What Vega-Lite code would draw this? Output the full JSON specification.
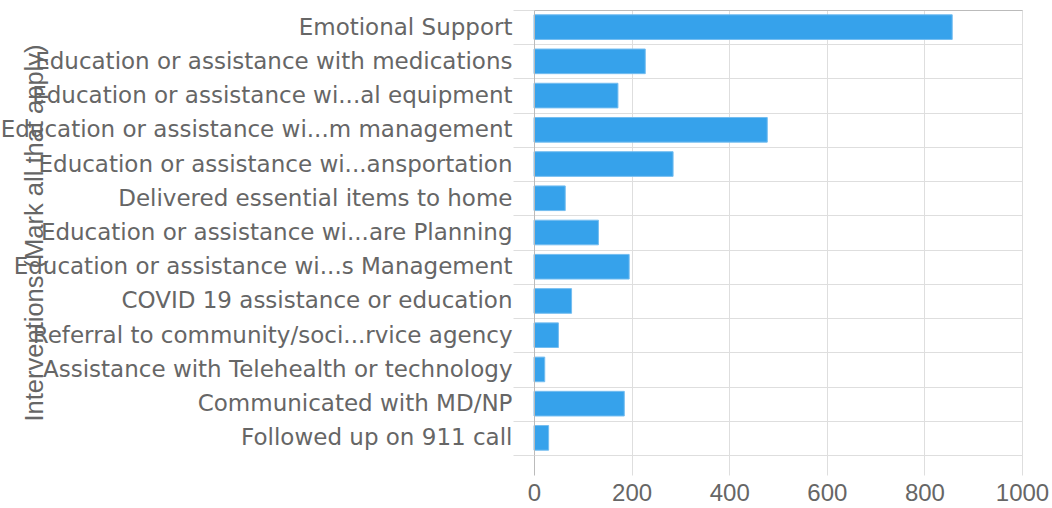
{
  "$schema": "https://vega.github.io/schema/vega-lite/v6.json",
  "width": 488,
  "height": 445,
  "autosize": {"type": "none"},
  "padding": {"left": 534, "top": 10, "right": 30, "bottom": 53},
  "background": "white",
  "config": {
    "view": {"stroke": "#dedede", "strokeWidth": 1},
    "axis": {"labelColor": "#666666", "titleColor": "#666666"}
  },
  "data": {
    "values": [
      {"intervention": "Emotional Support", "count": 857},
      {"intervention": "Education or assistance with medications", "count": 228},
      {"intervention": "Education or assistance wi...al equipment", "count": 172},
      {"intervention": "Education or assistance wi...m management", "count": 478},
      {"intervention": "Education or assistance wi...ansportation", "count": 285},
      {"intervention": "Delivered essential items to home", "count": 64},
      {"intervention": "Education or assistance wi...are Planning", "count": 132},
      {"intervention": "Education or assistance wi...s Management", "count": 195},
      {"intervention": "COVID 19 assistance or education", "count": 77},
      {"intervention": "Referral to community/soci...rvice agency", "count": 50},
      {"intervention": "Assistance with Telehealth or technology", "count": 22},
      {"intervention": "Communicated with MD/NP", "count": 185},
      {"intervention": "Followed up on 911 call", "count": 30}
    ]
  },
  "layer": [
    {
      "mark": {"type": "bar", "height": {"band": 0.72}, "color": "#36A2EB", "stroke": "#74bdf0", "strokeWidth": 1},
      "encoding": {
        "y": {
          "field": "intervention",
          "type": "nominal",
          "sort": null,
          "scale": {"paddingInner": 0, "paddingOuter": 0},
          "axis": {
            "title": "Interventions (Mark all that apply)",
            "titleFont": "Liberation Sans",
            "titleFontSize": 25.5,
            "titleFontWeight": "normal",
            "titleAngle": -90,
            "titleX": -492,
            "titleY": 222.5,
            "titleAlign": "center",
            "titleBaseline": "alphabetic",
            "labelFont": "DejaVu Sans",
            "labelFontSize": 23,
            "labelLimit": 0,
            "labelPadding": 1,
            "tickSize": 21,
            "tickColor": "#dedede",
            "tickBand": "extent",
            "grid": true,
            "gridColor": "#dedede",
            "domainColor": "#bbbbbb",
            "zindex": 1
          }
        },
        "x": {
          "field": "count",
          "type": "quantitative",
          "scale": {"domain": [0, 1000], "nice": false},
          "axis": {
            "title": null,
            "values": [0, 200, 400, 600, 800, 1000],
            "format": "d",
            "labelFont": "Liberation Sans",
            "labelFontSize": 24,
            "labelPadding": 6,
            "labelFlush": false,
            "tickSize": 20,
            "tickColor": {"condition": {"test": "datum.value === 0", "value": "#bbbbbb"}, "value": "#dedede"},
            "grid": true,
            "gridColor": "#dedede",
            "domain": false,
            "zindex": 0
          }
        }
      }
    },
    {
      "mark": {"type": "bar", "height": {"band": 0.72}, "opacity": 0},
      "encoding": {
        "y": {"field": "intervention", "type": "nominal", "sort": null},
        "x": {
          "field": "count",
          "type": "quantitative",
          "axis": {
            "orient": "top",
            "title": null,
            "labels": false,
            "ticks": false,
            "grid": false,
            "domain": true,
            "domainColor": "#bbbbbb",
            "zindex": 1
          }
        }
      }
    }
  ],
  "resolve": {"axis": {"x": "independent"}}
}
